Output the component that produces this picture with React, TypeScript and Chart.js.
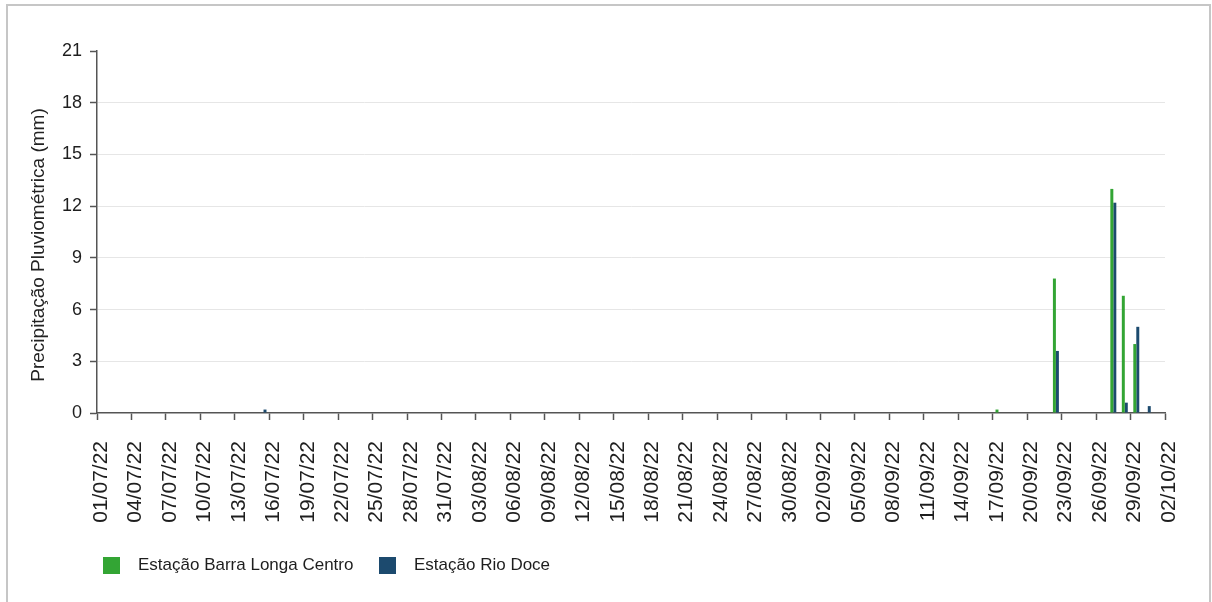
import React, { useEffect, useRef } from 'react';
import { Chart, registerables } from 'chart.js';

Chart.register(...registerables);

const FONT = '"Liberation Sans", Arial, Helvetica, sans-serif';

const seriesNames = ['Estação Barra Longa Centro', 'Estação Rio Doce'];
const seriesColors = ['#33a534', '#1c4a6e'];
const yAxisTitle = 'Precipitação Pluviométrica (mm)';

// tick labels of the x axis, one every 3 days (01/07/22 .. 02/10/22)
const xTickLabels = [
  '01/07/22', '04/07/22', '07/07/22', '10/07/22', '13/07/22', '16/07/22', '19/07/22', '22/07/22',
  '25/07/22', '28/07/22', '31/07/22', '03/08/22', '06/08/22', '09/08/22', '12/08/22', '15/08/22',
  '18/08/22', '21/08/22', '24/08/22', '27/08/22', '30/08/22', '02/09/22', '05/09/22', '08/09/22',
  '11/09/22', '14/09/22', '17/09/22', '20/09/22', '23/09/22', '26/09/22', '29/09/22', '02/10/22',
];

const yTicks = [0, 3, 6, 9, 12, 15, 18, 21];

// daily rainfall (mm), one value per day from 01/07/22 to 01/10/22
const barraLonga = [
  // July
  0, 0, 0, 0, 0, 0, 0, 0, 0, 0,
  0, 0, 0, 0, 0, 0, 0, 0, 0, 0,
  0, 0, 0, 0, 0, 0, 0, 0, 0, 0,
  0,
  // August
  0, 0, 0, 0, 0, 0, 0, 0, 0, 0,
  0, 0, 0, 0, 0, 0, 0, 0, 0, 0,
  0, 0, 0, 0, 0, 0, 0, 0, 0, 0,
  0,
  // September
  0, 0, 0, 0, 0, 0, 0, 0, 0, 0,
  0, 0, 0, 0, 0, 0, 0.2, 0, 0, 0,
  0, 7.8, 0, 0, 0, 0, 13.0, 6.8, 4.0, 0,
  // October
  0,
];

const rioDoce = [
  // July
  0, 0, 0, 0, 0, 0, 0, 0, 0, 0,
  0, 0, 0, 0, 0.2, 0, 0, 0, 0, 0,
  0, 0, 0, 0, 0, 0, 0, 0, 0, 0,
  0,
  // August
  0, 0, 0, 0, 0, 0, 0, 0, 0, 0,
  0, 0, 0, 0, 0, 0, 0, 0, 0, 0,
  0, 0, 0, 0, 0, 0, 0, 0, 0, 0,
  0,
  // September
  0, 0, 0, 0, 0, 0, 0, 0, 0, 0,
  0, 0, 0, 0, 0, 0, 0, 0, 0, 0,
  0, 3.6, 0, 0, 0, 0, 12.2, 0.6, 5.0, 0.4,
  // October
  0,
];

const seriesValues = [barraLonga, rioDoce];

const yTitlePlugin = {
  id: 'yTitlePlugin',
  afterDraw(chart: any) {
    const ctx = chart.ctx as CanvasRenderingContext2D;
    const area = chart.chartArea;
    ctx.save();
    ctx.translate(44, (area.top + area.bottom) / 2 + 13);
    ctx.rotate(-Math.PI / 2);
    ctx.font = `19px ${FONT}`;
    ctx.fillStyle = '#222';
    ctx.textAlign = 'center';
    ctx.textBaseline = 'alphabetic';
    ctx.fillText(yAxisTitle, 0, 0);
    ctx.restore();
  },
};

export default function App() {
  const canvasRef = useRef<HTMLCanvasElement | null>(null);

  useEffect(() => {
    const canvas = canvasRef.current;
    if (!canvas) return;
    Chart.defaults.font.family = FONT;
    const chart = new Chart(canvas, {
      type: 'bar',
      data: {
        datasets: seriesValues.map((vals, si) => ({
          label: seriesNames[si],
          data: vals.map((v, i) => ({ x: i + 0.5, y: v })),
          backgroundColor: seriesColors[si],
          borderWidth: 0,
          categoryPercentage: 0.52,
          barPercentage: 1,
        })),
      },
      options: {
        responsive: false,
        animation: false,
        devicePixelRatio: 1,
        layout: { padding: { left: 0, top: 51, right: 47, bottom: 0 } },
        plugins: {
          legend: { display: false },
          tooltip: { enabled: false },
        },
        scales: {
          x: {
            type: 'linear',
            min: 0,
            max: (xTickLabels.length - 1) * 3,
            offset: false,
            grid: {
              display: true,
              drawOnChartArea: false,
              drawTicks: true,
              tickLength: 7,
              tickColor: '#555',
              tickWidth: 1.5,
              offset: false,
            },
            border: { display: true, color: '#555', width: 1.5 },
            ticks: {
              stepSize: 3,
              autoSkip: false,
              maxRotation: 90,
              minRotation: 90,
              padding: 21,
              labelOffset: 4,
              color: '#1e1e1e',
              font: { size: 21, family: FONT },
              callback: (v: any) => xTickLabels[Math.round(Number(v) / 3)] ?? '',
            },
            afterFit: (s: any) => {
              s.height = 189;
            },
          },
          y: {
            type: 'linear',
            min: yTicks[0],
            max: yTicks[yTicks.length - 1],
            grid: {
              color: (c: any) =>
                c.tick && (c.tick.value === yTicks[0] || c.tick.value === yTicks[yTicks.length - 1])
                  ? 'rgba(0,0,0,0)'
                  : '#e6e6e6',
              lineWidth: 1,
              tickColor: '#555',
              tickLength: 7,
              tickWidth: 1.5,
            },
            border: { display: true, color: '#555', width: 1.5 },
            ticks: {
              stepSize: 3,
              padding: 8,
              color: '#1e1e1e',
              font: { size: 18, family: FONT },
            },
            afterFit: (s: any) => {
              s.width = 97;
            },
          },
        },
      } as any,
      plugins: [yTitlePlugin],
    });
    return () => chart.destroy();
  }, []);

  return (
    <div
      style={{
        position: 'fixed',
        left: 0,
        top: 0,
        width: 1212,
        height: 602,
        overflow: 'hidden',
        background: '#fff',
      }}
    >
      <div
        style={{
          position: 'absolute',
          left: 6,
          top: 4,
          width: 1201,
          height: 700,
          border: '2px solid #c6c6c6',
        }}
      />
      <canvas
        ref={canvasRef}
        width={1212}
        height={602}
        style={{ position: 'absolute', left: 0, top: 0, width: 1212, height: 602, display: 'block' }}
      />
      {seriesNames.map((name, i) => (
        <div
          key={name}
          style={{
            position: 'absolute',
            left: i === 0 ? 103 : 379,
            top: 553,
            height: 24,
            display: 'flex',
            alignItems: 'center',
            fontFamily: FONT,
            fontSize: 17,
            color: '#1e1e1e',
            whiteSpace: 'nowrap',
          }}
        >
          <span
            style={{
              display: 'inline-block',
              width: 17,
              height: 17,
              background: seriesColors[i],
              marginRight: 18,
            }}
          />
          <span>{name}</span>
        </div>
      ))}
    </div>
  );
}
